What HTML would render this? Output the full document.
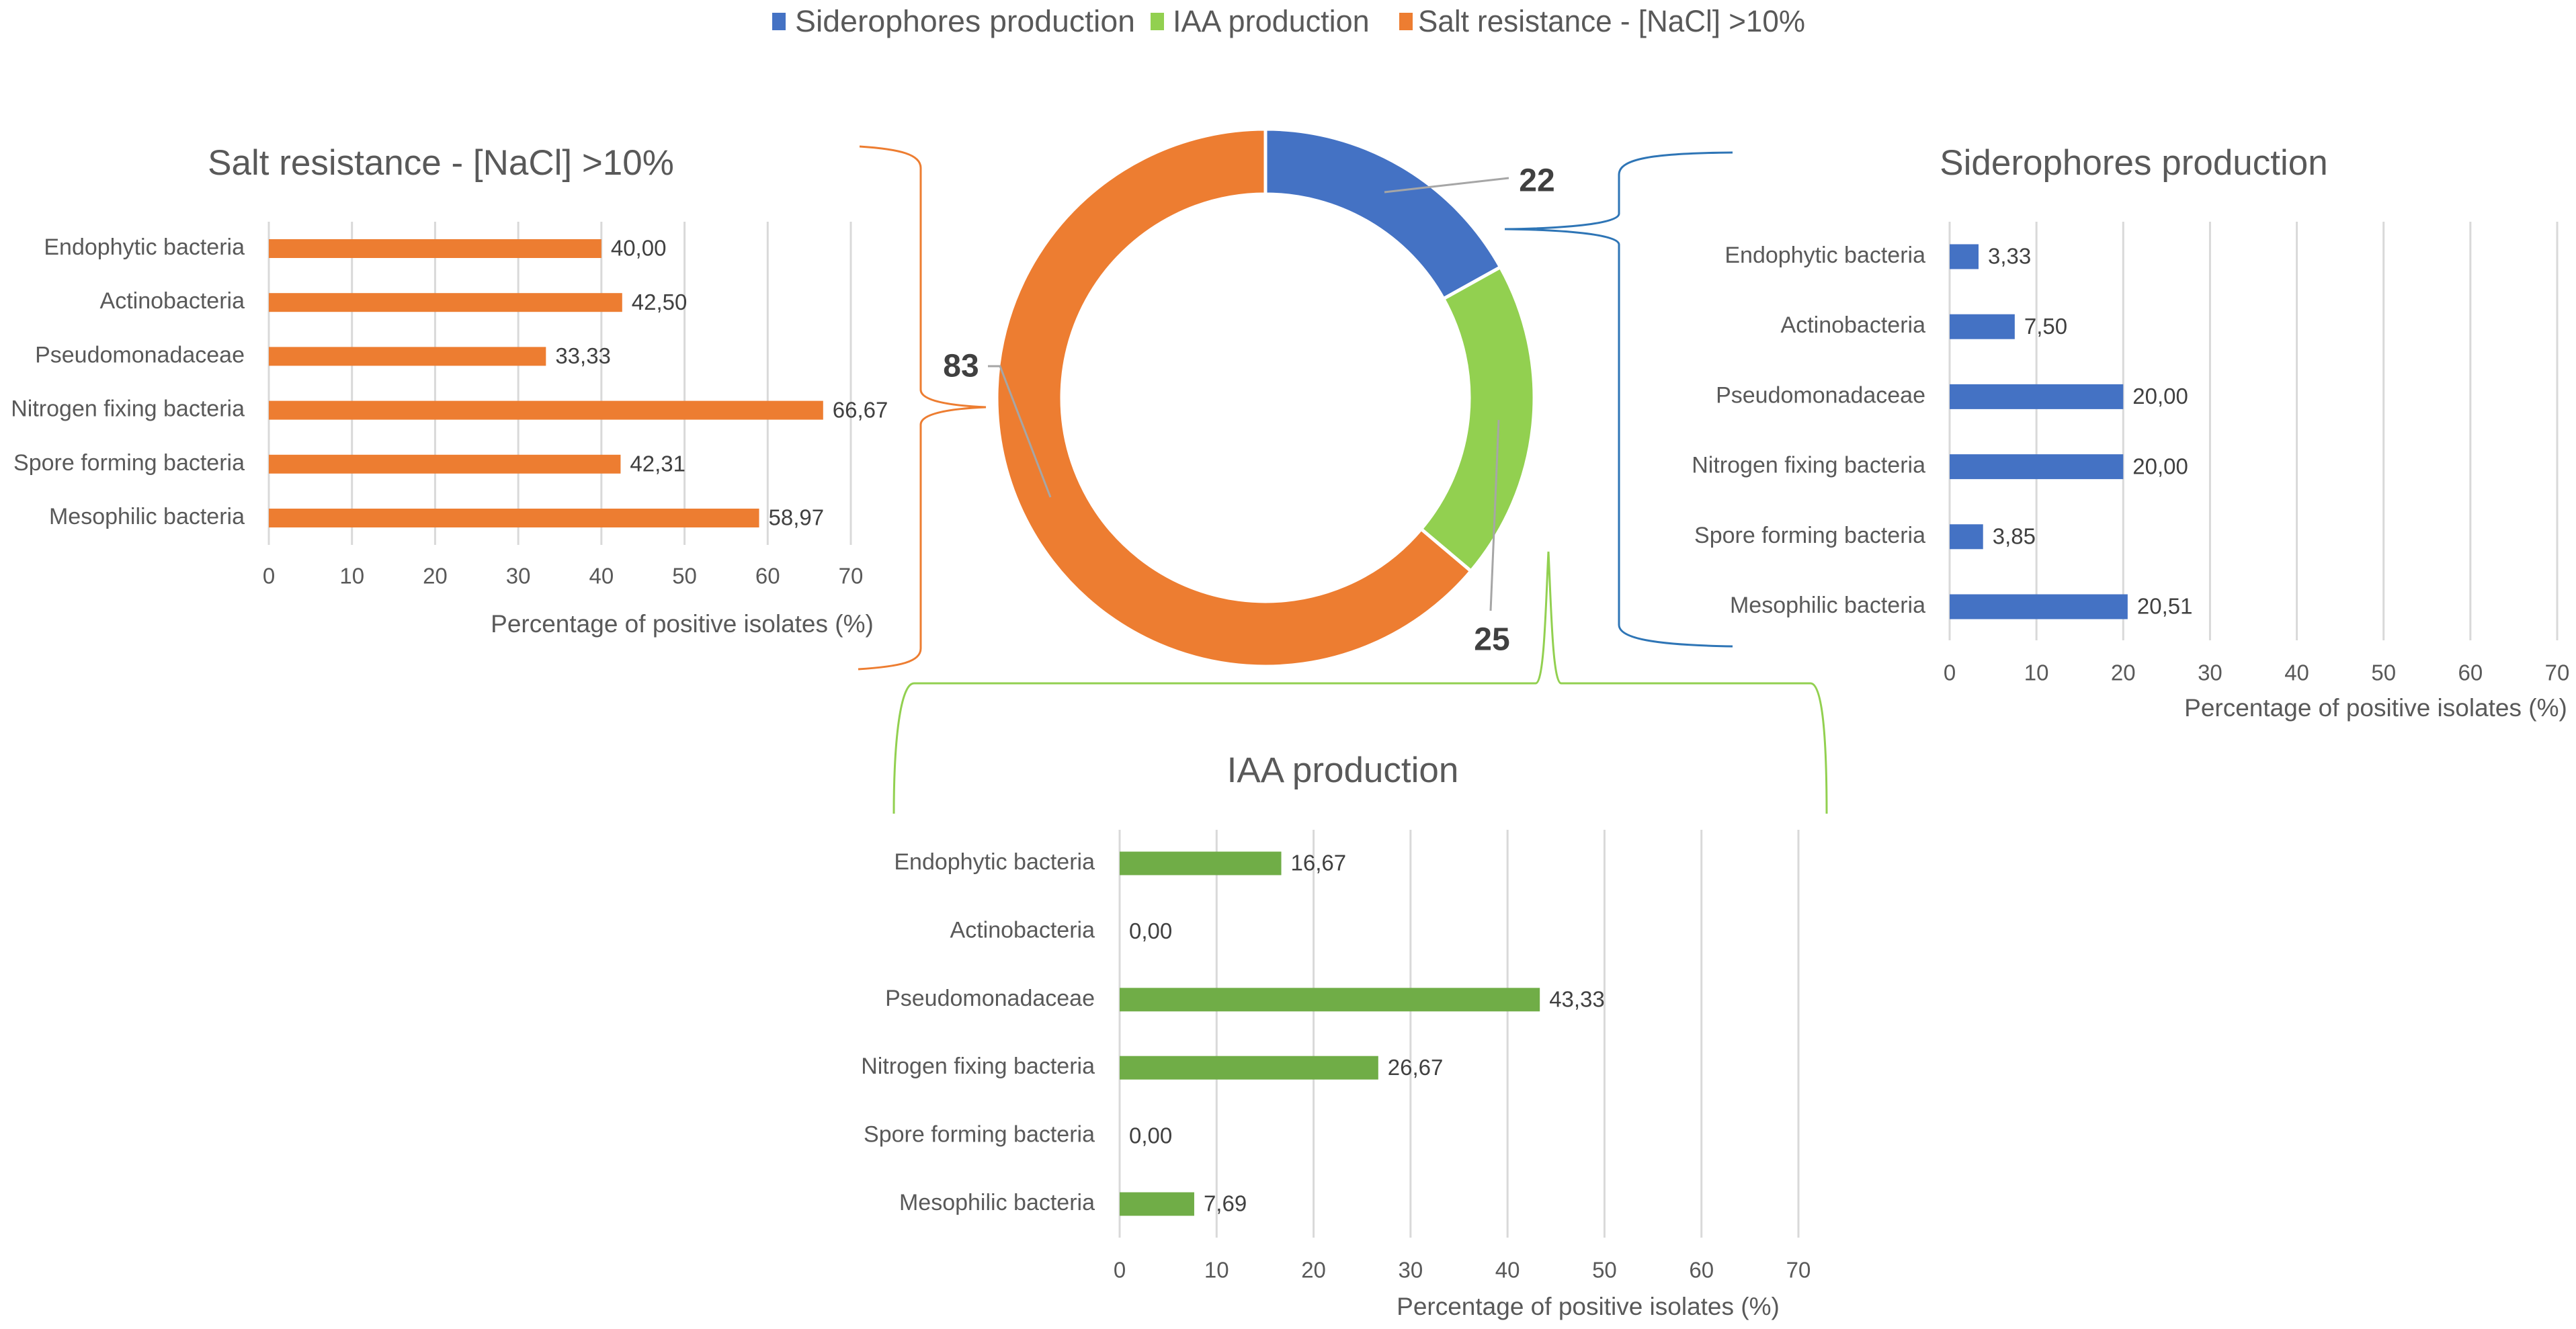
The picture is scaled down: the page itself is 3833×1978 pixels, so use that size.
<!DOCTYPE html>
<html><head><meta charset="utf-8"><style>
html,body{margin:0;padding:0;background:#fff;}
svg{display:block;font-family:"Liberation Sans",sans-serif;}
</style></head><body>
<svg id="chart" width="3833" height="1978" viewBox="0 0 3833 1978" xmlns="http://www.w3.org/2000/svg">
<g id="legend">
  <rect x="1149" y="19" width="20" height="26" fill="#4472C4"/>
  <text x="1183" y="47" font-size="45" fill="#595959" textLength="506" lengthAdjust="spacingAndGlyphs">Siderophores production</text>
  <rect x="1712" y="19" width="20" height="26" fill="#92D050"/>
  <text x="1745" y="47" font-size="45" fill="#595959">IAA production</text>
  <rect x="2082" y="19" width="20" height="26" fill="#ED7D31"/>
  <text x="2110" y="47" font-size="45" fill="#595959" textLength="576" lengthAdjust="spacingAndGlyphs">Salt resistance - [NaCl] &gt;10%</text>
</g>
<g fill="none" stroke-width="3">
  <path d="M1279 218 C1340 222 1370 230 1370 250 L1370 580 C1370 598 1420 604 1467 606 C1420 608 1370 614 1370 632 L1370 965 C1370 985 1340 992 1277 996" stroke="#ED7D31"/>
  <path d="M2578 227 C2460 228 2409 236 2409 260 L2409 318 C2409 334 2320 340 2239 341 C2320 342 2409 348 2409 364 L2409 930 C2409 950 2460 960 2578 962" stroke="#2E75B6"/>
  <path d="M2304 821 C2300 900 2298 1017 2285 1017 L1360 1017 C1340 1017 1330 1100 1330 1211" stroke="#92D050"/>
  <path d="M2304 821 C2308 900 2310 1017 2323 1017 L2694 1017 C2712 1017 2718 1100 2718 1211" stroke="#92D050"/>
</g>
<g id="donut"></g>
<g id="salt"></g>
<g id="sid"></g>
<g id="iaa"></g>
</svg>
<script>
const categories = ["Endophytic bacteria","Actinobacteria","Pseudomonadaceae","Nitrogen fixing bacteria","Spore forming bacteria","Mesophilic bacteria"];
const saltValues = [40.00, 42.50, 33.33, 66.67, 42.31, 58.97];
const sidValues = [3.33, 7.50, 20.00, 20.00, 3.85, 20.51];
const iaaValues = [16.67, 0.00, 43.33, 26.67, 0.00, 7.69];
const xTicks = [0,10,20,30,40,50,60,70];
const donutLabels = ["Siderophores production","IAA production","Salt resistance"];
const donutValues = [22, 25, 83];

const NS = "http://www.w3.org/2000/svg";
function mk(tag, attrs, parent){
  const e = document.createElementNS(NS, tag);
  for (const k in attrs) e.setAttribute(k, attrs[k]);
  parent.appendChild(e);
  return e;
}
function fmt(v){ return v.toFixed(2).replace('.', ','); }

function barChart(gid, key, values, color, cfg){
  const g = document.getElementById(gid);
  const xs = v => cfg.x0 + (cfg.x70 - cfg.x0) * v / 70;
  const ys = i => cfg.yFirst + i * cfg.step;
  const title = mk('text', {x: cfg.titleX, y: cfg.titleY, 'font-size': 53, fill: '#595959', 'text-anchor': 'middle', 'dominant-baseline': 'middle'}, g);
  title.textContent = cfg.title;
  
  
  xTicks.forEach(t => {
    const l = mk('line', {x1: xs(t), x2: xs(t), y1: cfg.gTop, y2: cfg.gBot, stroke: '#d9d9d9', 'stroke-width': 3}, g);
    
    
    const tx = mk('text', {x: xs(t), y: cfg.tickY, 'font-size': 33, fill: '#595959', 'text-anchor': 'middle', 'dominant-baseline': 'middle'}, g);
    tx.textContent = t;
    
    
  });
  categories.forEach((c, i) => {
    const y = ys(i);
    const lb = mk('text', {x: cfg.labelX, y: y, 'font-size': 34, fill: '#595959', 'text-anchor': 'end', 'dominant-baseline': 'middle'}, g);
    lb.textContent = c;
    
    
    const v = values[i];
    if (v > 0) {
      const r = mk('rect', {x: xs(0), y: y - cfg.barH / 2, width: xs(v) - xs(0), height: cfg.barH, fill: color}, g);
      
      
    }
    const vl = mk('text', {x: xs(v) + 14, y: y + 2, 'font-size': 33, fill: '#404040', 'dominant-baseline': 'middle'}, g);
    vl.textContent = fmt(v);
    
    
  });
  const at = mk('text', {x: cfg.axisTitleX, y: cfg.axisTitleY, 'font-size': 37, fill: '#595959', 'text-anchor': 'middle', 'dominant-baseline': 'middle'}, g);
  at.textContent = 'Percentage of positive isolates (%)';
  
  
}

barChart('salt', 'salt', saltValues, '#ED7D31', {x0: 400, x70: 1266, yFirst: 370, step: 80.2, barH: 28, gTop: 330, gBot: 811, tickY: 860, labelX: 364, title: 'Salt resistance - [NaCl] >10%', titleX: 656, titleY: 246, axisTitleX: 1015, axisTitleY: 931});
barChart('sid', 'siderophores', sidValues, '#4472C4', {x0: 2901, x70: 3805, yFirst: 382, step: 104.2, barH: 37, gTop: 330, gBot: 953, tickY: 1004, labelX: 2865, title: 'Siderophores production', titleX: 3175, titleY: 246, axisTitleX: 3535, axisTitleY: 1056});
barChart('iaa', 'iaa', iaaValues, '#70AD47', {x0: 1666, x70: 2676, yFirst: 1285, step: 101.4, barH: 35, gTop: 1235, gBot: 1842, tickY: 1893, labelX: 1629, title: 'IAA production', titleX: 1998, titleY: 1150, axisTitleX: 2363, axisTitleY: 1947});

(function(){
  const g = document.getElementById('donut');
  const cx = 1883, cy = 592, R = 400, r = 303;
  const colors = ['#4472C4', '#92D050', '#ED7D31'];
  const total = donutValues.reduce((a, b) => a + b, 0);
  let a0 = 0;
  const pt = (rad, a) => [cx + rad * Math.sin(a), cy - rad * Math.cos(a)];
  const labelPos = [[2287, 272], [2220, 955], [1430, 548]];
  const leaders = [[[2245,265],[2060,286]], [[2230,625],[2218,909]], [[1470,545],[1488,545],[1563,740]]];
  donutValues.forEach((v, i) => {
    const a1 = a0 + v / total * 2 * Math.PI;
    const large = (a1 - a0) > Math.PI ? 1 : 0;
    const p1 = pt(R, a0), p2 = pt(R, a1), p3 = pt(r, a1), p4 = pt(r, a0);
    const d = `M${p1} A${R} ${R} 0 ${large} 1 ${p2} L${p3} A${r} ${r} 0 ${large} 0 ${p4} Z`;
    const s = mk('path', {d: d, fill: colors[i], stroke: '#fff', 'stroke-width': 5}, g);
    
    
    a0 = a1;
  });
  donutValues.forEach((v, i) => {
    const ln = mk('polyline', {points: leaders[i].map(p => p.join(',')).join(' '), fill: 'none', stroke: '#a6a6a6', 'stroke-width': 3}, g);
    
    
    const lp = labelPos[i];
    const t = mk('text', {x: lp[0], y: lp[1], 'font-size': 48, 'font-weight': 'bold', fill: '#404040', 'text-anchor': 'middle', 'dominant-baseline': 'middle'}, g);
    t.textContent = v;
    
    
  });
})();
</script>
</body></html>
